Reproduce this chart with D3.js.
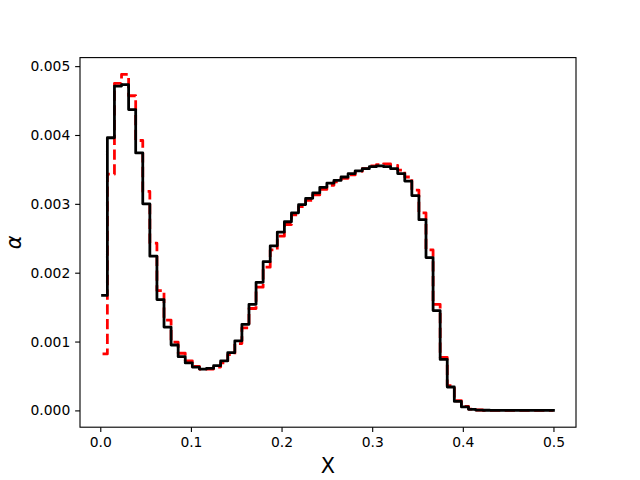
<!DOCTYPE html>
<html>
<head>
<meta charset="utf-8">
<script src="https://cdn.jsdelivr.net/npm/d3@7"></script>
<style>
  html, body { margin: 0; padding: 0; background: #fff; }
  text { font-family: "DejaVu Sans", sans-serif; }
</style>
</head>
<body>
<svg id="chart" width="640" height="480"></svg>
<script>
// ---- data ----
const xStart = 0.0025;
const xEnd = 0.5;
const binWidth = 1 / 128;

const blackValues = [
  0.00167, 0.00396, 0.00471, 0.00473, 0.00437, 0.00374, 0.00300, 0.00224,
  0.00161, 0.00121, 0.00095, 0.00078, 0.00069, 0.00063, 0.00060, 0.00061,
  0.00065, 0.00072, 0.00084, 0.00101, 0.00125, 0.00154, 0.00186, 0.00216,
  0.00239, 0.00259, 0.00274, 0.00287, 0.00299, 0.00308, 0.00316, 0.00324,
  0.00330, 0.00334, 0.00339, 0.00344, 0.00348, 0.00351, 0.00354, 0.00355,
  0.00354, 0.00351, 0.00344, 0.00333, 0.00312, 0.00277, 0.00222, 0.00145,
  0.00074, 0.00034, 0.00013, 0.00005, 0.000015, 0.000005, 0.000002, 0,
  0, 0, 0, 0, 0, 0, 0, 0
];

const redValues = [
  0.00082, 0.00343, 0.00475, 0.00488, 0.00457, 0.00392, 0.00318, 0.00243,
  0.00174, 0.00131, 0.00099, 0.00083, 0.00072, 0.00064, 0.00060, 0.00060,
  0.00063, 0.00069, 0.00081, 0.00097, 0.00120, 0.00148, 0.00179, 0.00208,
  0.00233, 0.00253, 0.00270, 0.00284, 0.00296, 0.00305, 0.00313, 0.00321,
  0.00327, 0.00332, 0.00337, 0.00342, 0.00347, 0.00351, 0.00355, 0.00357,
  0.00358, 0.00356, 0.00349, 0.00339, 0.00320, 0.00287, 0.00233, 0.00154,
  0.00077, 0.00036, 0.00014, 0.00006, 0.00002, 0.000006, 0, 0,
  0, 0, 0, 0, 0, 0, 0, 0
];

const xTicks = [0.0, 0.1, 0.2, 0.3, 0.4, 0.5];
const xTickLabels = ["0.0", "0.1", "0.2", "0.3", "0.4", "0.5"];
const yTicks = [0.000, 0.001, 0.002, 0.003, 0.004, 0.005];
const yTickLabels = ["0.000", "0.001", "0.002", "0.003", "0.004", "0.005"];
const xLabel = "X";
const yLabel = "α";

// ---- layout ----
const W = 640, H = 480;
const padL = 80, padR = 576, padT = 57.6, padB = 427.2;
const PT = 100 / 72;

function stepPoints(vals) {
  const pts = vals.map((v, k) => [k === 0 ? xStart : k * binWidth, v]);
  pts.push([xEnd, vals[vals.length - 1]]);
  return pts;
}
const blackPts = stepPoints(blackValues);
const redPts = stepPoints(redValues);

const xr = xEnd - xStart;
const x = d3.scaleLinear()
  .domain([xStart - 0.05 * xr, xEnd + 0.05 * xr])
  .range([padL, padR]);

const allY = blackValues.concat(redValues);
const yMin = d3.min(allY), yMax = d3.max(allY);
const yr = yMax - yMin;
const y = d3.scaleLinear()
  .domain([yMin - 0.05 * yr, yMax + 0.05 * yr])
  .range([padB, padT]);

const svg = d3.select("#chart");
svg.append("rect").attr("width", W).attr("height", H).attr("fill", "#fff");

const defs = svg.append("defs");
defs.append("clipPath").attr("id", "clip")
  .append("rect").attr("x", padL).attr("y", padT)
  .attr("width", padR - padL).attr("height", padB - padT);

const line = d3.line()
  .x(d => x(d[0])).y(d => y(d[1]))
  .curve(d3.curveStepAfter);

const plot = svg.append("g").attr("clip-path", "url(#clip)");

plot.append("path")
  .datum(redPts)
  .attr("d", line)
  .attr("fill", "none")
  .attr("stroke", "#ff0000")
  .attr("stroke-width", 2 * PT)
  .attr("stroke-dasharray", `${7.4 * PT},${3.2 * PT}`)
  .attr("stroke-linejoin", "round")
  .attr("stroke-linecap", "butt");

plot.append("path")
  .datum(blackPts)
  .attr("d", line)
  .attr("fill", "none")
  .attr("stroke", "#000")
  .attr("stroke-width", 2 * PT)
  .attr("stroke-linejoin", "round")
  .attr("stroke-linecap", "square");

// ---- axes ----
const tickLen = 3.5 * PT;
const fontPx = 10 * PT;

const xAxis = d3.axisBottom(x)
  .tickValues(xTicks)
  .tickFormat((d, i) => xTickLabels[i])
  .tickSizeInner(tickLen).tickSizeOuter(0).tickPadding(3.5 * PT);

const gx = svg.append("g")
  .attr("transform", `translate(0,${padB})`)
  .call(xAxis);
gx.select(".domain").remove();
gx.selectAll(".tick line").attr("stroke", "#000").attr("stroke-width", 0.8 * PT);
gx.selectAll(".tick text")
  .attr("font-family", "DejaVu Sans")
  .attr("font-size", fontPx)
  .attr("fill", "#000");

const yAxis = d3.axisLeft(y)
  .tickValues(yTicks)
  .tickFormat((d, i) => yTickLabels[i])
  .tickSizeInner(tickLen).tickSizeOuter(0).tickPadding(3.5 * PT);

const gy = svg.append("g")
  .attr("transform", `translate(${padL},0)`)
  .call(yAxis);
gy.select(".domain").remove();
gy.selectAll(".tick line").attr("stroke", "#000").attr("stroke-width", 0.8 * PT);
gy.selectAll(".tick text")
  .attr("font-family", "DejaVu Sans")
  .attr("font-size", fontPx)
  .attr("fill", "#000");

// frame
svg.append("rect")
  .attr("x", padL).attr("y", padT)
  .attr("width", padR - padL).attr("height", padB - padT)
  .attr("fill", "none")
  .attr("stroke", "#000")
  .attr("stroke-width", 0.8 * PT);

// labels
svg.append("text")
  .attr("x", (padL + padR) / 2)
  .attr("y", 473)
  .attr("text-anchor", "middle")
  .attr("font-size", 15 * PT)
  .attr("fill", "#000")
  .text(xLabel);

svg.append("text")
  .attr("transform", `translate(21,${(padT + padB) / 2}) rotate(-90)`)
  .attr("text-anchor", "middle")
  .attr("font-size", 15 * PT)
  .attr("font-style", "italic")
  .attr("fill", "#000")
  .text(yLabel);
</script>
</body>
</html>
